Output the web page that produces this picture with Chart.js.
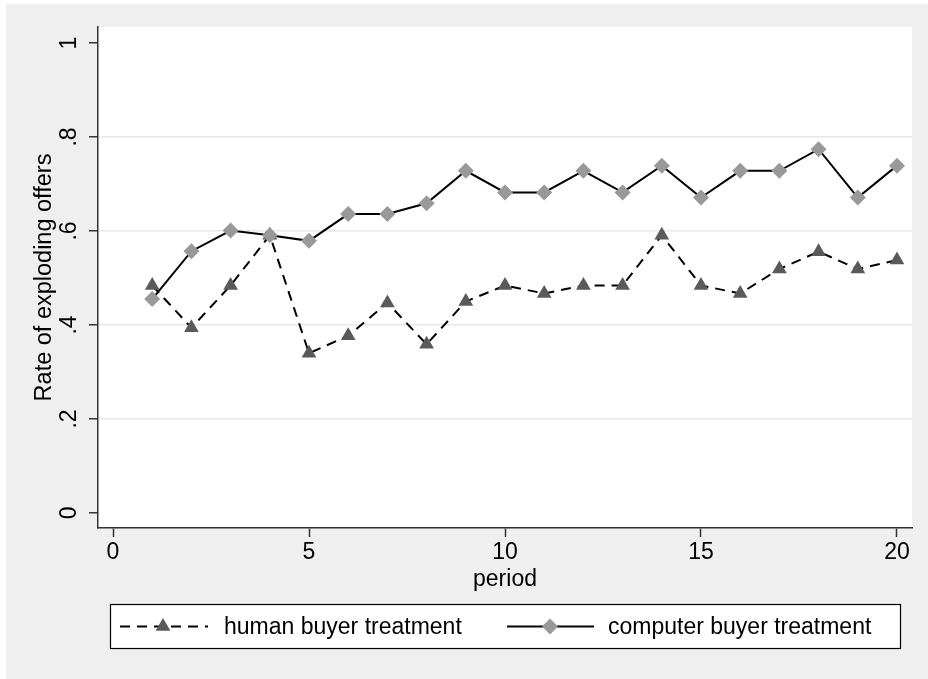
<!DOCTYPE html>
<html><head><meta charset="utf-8">
<script src="https://cdn.jsdelivr.net/npm/chart.js@4.4.0/dist/chart.umd.min.js"></script>
<style>html,body{margin:0;padding:0;background:#fff;}#wrap{width:928px;height:679px;}</style>
</head><body><div id="wrap"><canvas id="c" width="928" height="679"></canvas></div>
<script>
const periods = [1,2,3,4,5,6,7,8,9,10,11,12,13,14,15,16,17,18,19,20];
const humanBuyer = [0.484,0.394,0.484,0.591,0.340,0.377,0.447,0.359,0.450,0.484,0.467,0.484,0.484,0.591,0.484,0.467,0.519,0.556,0.519,0.538];
const computerBuyer = [0.455,0.557,0.601,0.591,0.579,0.636,0.636,0.659,0.728,0.682,0.682,0.728,0.682,0.739,0.671,0.728,0.728,0.774,0.671,0.739];
const seriesLabels = ['human buyer treatment','computer buyer treatment'];
const xTickValues = [0,5,10,15,20];
const yTickValues = [0,0.2,0.4,0.6,0.8,1];
const yTickLabels = ['0','.2','.4','.6','.8','1'];
const xTitle = 'period';
const yTitle = 'Rate of exploding offers';

const FONT = 'Liberation Sans, Arial, Helvetica, sans-serif';
const AXIS = '#333333';

const bgPlugin = {
  id:'bg',
  beforeDraw(chart){
    const {ctx, chartArea:a} = chart;
    ctx.save();
    ctx.fillStyle='#ffffff'; ctx.fillRect(0,0,chart.width,chart.height);
    ctx.fillStyle='#efefef'; ctx.fillRect(6,4,chart.width-6,chart.height-4);
    ctx.fillStyle='#ffffff'; ctx.fillRect(a.left,a.top,a.right-a.left,a.bottom-a.top);
    ctx.restore();
  }
};

function drawMarker(ctx, style, x, y, r, color){
  ctx.save();
  ctx.fillStyle=color;
  ctx.beginPath();
  if(style==='triangle'){
    for(let i=0;i<3;i++){
      const ang = i*2*Math.PI/3;
      const px = x + Math.sin(ang)*r, py = y - Math.cos(ang)*r;
      if(i===0) ctx.moveTo(px,py); else ctx.lineTo(px,py);
    }
  } else {
    ctx.moveTo(x,y-r); ctx.lineTo(x+r,y); ctx.lineTo(x,y+r); ctx.lineTo(x-r,y);
  }
  ctx.closePath(); ctx.fill();
  ctx.restore();
}

const overlayPlugin = {
  id:'overlay',
  afterDraw(chart){
    const ctx = chart.ctx;
    const ys = chart.scales.y;
    ctx.save();
    // y tick labels, rotated
    ctx.fillStyle='#000';
    ctx.font = '23px ' + FONT;
    ctx.textAlign='center'; ctx.textBaseline='middle';
    yTickValues.forEach((v,i)=>{
      const py = ys.getPixelForValue(v);
      ctx.save();
      ctx.translate(69, py);
      ctx.rotate(-Math.PI/2);
      ctx.fillText(yTickLabels[i], 0, 1);
      ctx.restore();
    });
    // legend
    const L = {x:110, y:604, w:790, h:44};
    ctx.fillStyle='#fff'; ctx.fillRect(L.x,L.y,L.w,L.h);
    ctx.strokeStyle='#000'; ctx.lineWidth=1.2; ctx.strokeRect(L.x+0.5,L.y+0.5,L.w,L.h);
    const cy = L.y + L.h/2 + 0.5;
    const slots = [{x0:120,x1:208,mx:163,tx:224},{x0:507,x1:594,mx:550,tx:608}];
    chart.data.datasets.forEach(ds=>{
      const s = slots[ds.legendIndex];
      ctx.save();
      ctx.strokeStyle = ds.borderColor; ctx.lineWidth = ds.borderWidth;
      ctx.setLineDash(ds.borderDash || []);
      ctx.beginPath(); ctx.moveTo(s.x0,cy); ctx.lineTo(s.x1,cy); ctx.stroke();
      ctx.restore();
      drawMarker(ctx, ds.pointStyle, s.mx, cy, ds.pointRadius, ds.pointBackgroundColor);
      ctx.fillStyle='#000'; ctx.font='23px '+FONT; ctx.textAlign='left'; ctx.textBaseline='middle';
      ctx.fillText(ds.label, s.tx, cy+1);
    });
    ctx.restore();
  }
};

new Chart(document.getElementById('c'), {
  type:'line',
  data:{
    datasets:[
      { label: seriesLabels[1], legendIndex:1, order:0,
        data: periods.map((p,i)=>({x:p,y:computerBuyer[i]})),
        borderColor:'#000', borderWidth:2, borderDash:[],
        pointStyle:'rectRot', pointRadius:8, pointBackgroundColor:'#999999', pointBorderWidth:0,
        pointHoverRadius:8, tension:0, fill:false },
      { label: seriesLabels[0], legendIndex:0, order:1,
        data: periods.map((p,i)=>({x:p,y:humanBuyer[i]})),
        borderColor:'#000', borderWidth:2, borderDash:[10,7],
        pointStyle:'triangle', pointRadius:8.5, pointBackgroundColor:'#5a5a5a', pointBorderWidth:0,
        pointHoverRadius:8.5, tension:0, fill:false }
    ]
  },
  options:{
    responsive:false, animation:false, devicePixelRatio:1,
    layout:{padding:{left:0,top:27,right:16,bottom:86}},
    plugins:{legend:{display:false}, tooltip:{enabled:false}},
    events:[],
    scales:{
      x:{
        type:'linear', min:-0.383, max:20.383,
        afterBuildTicks: s=>{ s.ticks = xTickValues.map(v=>({value:v})); },
        afterFit: s=>{ s.height = 65; },
        ticks:{ font:{family:FONT,size:23}, color:'#000', padding:2, maxRotation:0, minRotation:0 },
        grid:{ drawOnChartArea:false, drawTicks:true, tickLength:9, tickColor:AXIS, tickWidth:1.5, color:AXIS },
        border:{ display:true, color:AXIS, width:1.5 },
        title:{ display:true, text:xTitle, font:{family:FONT,size:23}, color:'#000', padding:{top:0,bottom:0} }
      },
      y:{
        type:'linear', min:-0.032, max:1.034,
        afterBuildTicks: s=>{ s.ticks = yTickValues.map(v=>({value:v})); },
        afterFit: s=>{ s.width = 98; },
        ticks:{ display:false },
        grid:{ drawOnChartArea:true, drawTicks:true, tickLength:9,
          color: c => (c.tick && c.tick.value>0.01 && c.tick.value<0.99) ? '#e8e8e8' : 'rgba(0,0,0,0)',
          lineWidth:1.5, tickColor:AXIS, tickWidth:1.5 },
        border:{ display:true, color:AXIS, width:1.5 },
        title:{ display:true, text:yTitle, font:{family:FONT,size:23.5}, color:'#000', padding:{top:30,bottom:0} }
      }
    }
  },
  plugins:[bgPlugin, overlayPlugin]
});
</script></body></html>
